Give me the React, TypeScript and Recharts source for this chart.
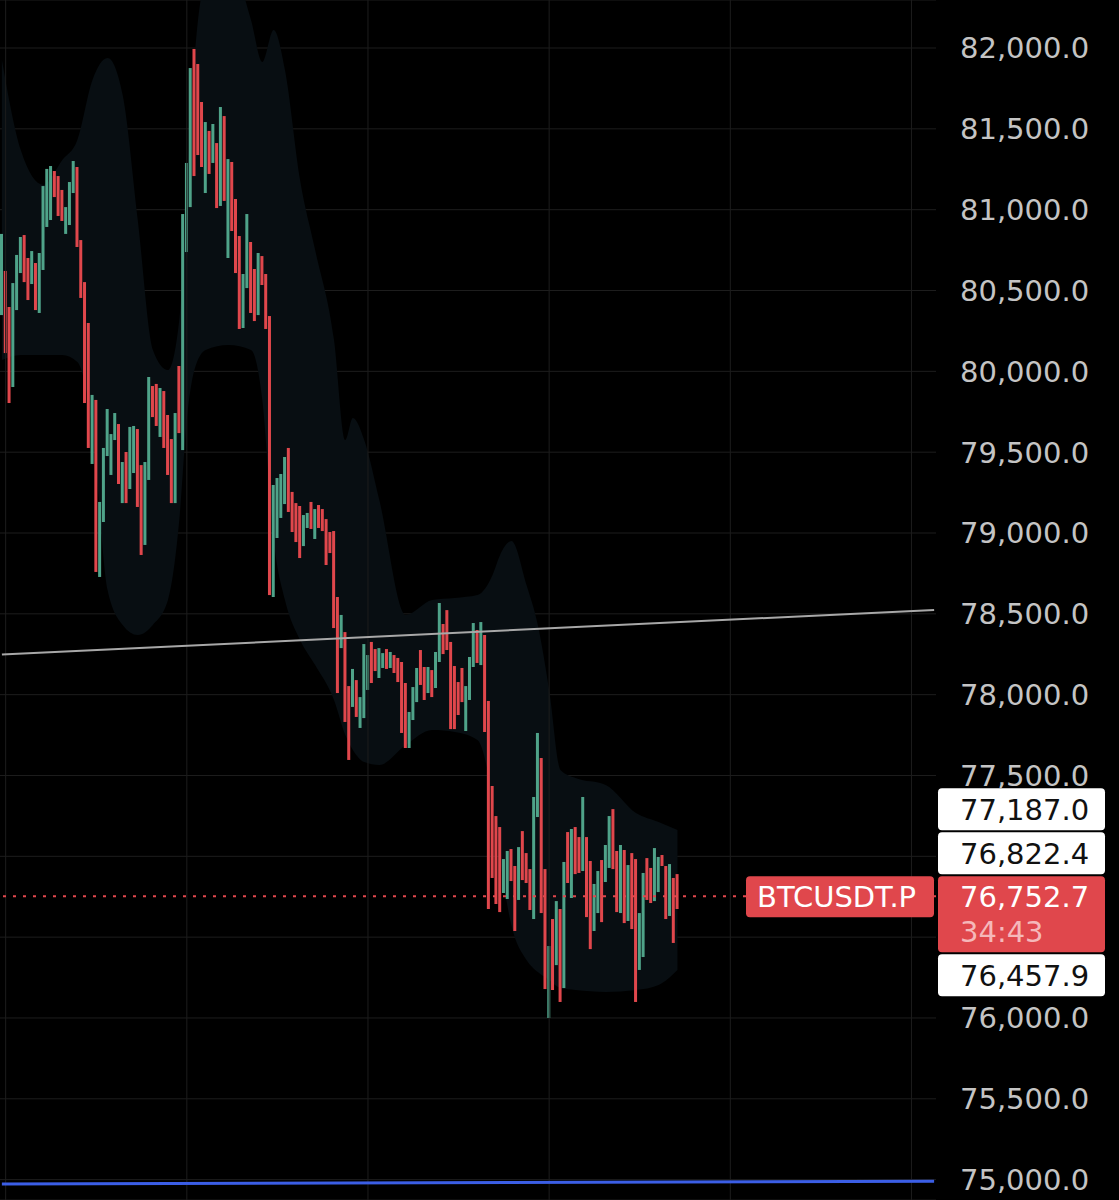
import React from "react";
import {
	ComposedChart,
	Bar,
	Area,
	XAxis,
	YAxis,
	CartesianGrid,
	ReferenceLine,
} from "recharts";

// 15m candles (high / low / green?)
const candleHigh = [
	80850, 80621, 80398, 80546, 80720, 80831, 80843, 80701, 80744, 80670,
	80732, 81146, 81252, 81270, 81239, 81208, 81122, 81016, 81171, 81301,
	81264, 80812, 80552, 80299, 79854, 79823, 79192, 79526, 79767, 79612,
	79742, 79674, 79439, 79501, 79656, 79662, 79643, 79420, 79439, 79965,
	79909, 79922, 79897, 79878, 79730, 79581, 79742, 80033, 80973, 81289,
	81876, 81994, 81901, 81666, 81542, 81487, 81530, 81412, 81635, 81579,
	81313, 81295, 81066, 80837, 80602, 80973, 80800, 80633, 80732, 80713,
	80602, 80342, 79297, 79340, 79365, 79470, 79526, 79254, 79185, 79167,
	79111, 79124, 79192, 79148, 79173, 79148, 79086, 79006, 79012, 78604,
	78493, 78387, 78053, 78159, 78090, 77985, 78313, 78245, 78326, 78282,
	78288, 78257, 78282, 78264, 78245, 78227, 78202, 78072, 77893, 78047,
	78165, 78276, 78171, 78171, 78152, 78264, 78567, 78437, 78523, 78326,
	78177, 78078, 78165, 78053, 78233, 78443, 78400, 78449, 78369, 77961,
	77435, 77249, 77181, 76983, 77033, 77045, 76940, 77057, 77156, 77020,
	76921, 77367, 77763, 77608, 76921, 76445, 76612, 76723, 76674, 76965,
	77150, 77169, 77181, 77119, 77367, 77119, 76971, 76829, 76909, 76977,
	77070, 77249, 77292, 77033, 77070, 77039, 76946, 77020, 76983, 76649,
	76897, 76989, 76928, 77051, 76996, 77008, 76940, 76952, 76866, 76890,
];
const candleLow = [
	80348, 80113, 79804, 79903, 80379, 80608, 80552, 80441, 80540, 80379,
	80361, 80627, 80893, 80936, 81078, 80961, 80930, 80850, 80905, 81103,
	80769, 80454, 79804, 79526, 79427, 78759, 78728, 79068, 79476, 79359,
	79575, 79303, 79185, 79185, 79272, 79371, 79161, 78864, 78926, 79328,
	79717, 79662, 79594, 79526, 79359, 79185, 79185, 79618, 79513, 80738,
	81016, 81208, 81338, 81264, 81103, 81221, 81289, 81010, 81023, 81054,
	80701, 80868, 80608, 80262, 80268, 80515, 80361, 80311, 80348, 80534,
	80262, 78616, 78604, 78969, 79093, 79179, 79130, 79006, 78944, 78845,
	78919, 79031, 79025, 78963, 79031, 79012, 78802, 78876, 78412, 78010,
	78288, 77831, 77596, 77924, 77862, 77794, 77855, 78029, 78072, 78146,
	78103, 78165, 78159, 78165, 78134, 78078, 77763, 77670, 77670, 77843,
	77954, 78060, 77967, 78010, 77985, 78041, 78202, 78251, 78276, 77787,
	77787, 77874, 77954, 77775, 77967, 78171, 78196, 78183, 77769, 76674,
	76866, 76705, 76655, 76773, 76736, 76847, 76538, 76730, 76853, 76835,
	76668, 76612, 77243, 76649, 76179, 76000, 76173, 76327, 76099, 76185,
	76835, 76742, 76890, 76897, 76909, 76624, 76426, 76538, 76649, 76593,
	76841, 76928, 76921, 76655, 76649, 76587, 76600, 76550, 76099, 76297,
	76377, 76730, 76711, 76723, 76779, 76940, 76612, 76631, 76464, 76674,
];
const candleUp = [
	1, 0, 0, 1, 1, 1, 0, 0, 1, 0, 1, 1, 1, 1, 0, 0, 0, 1, 1, 1,
	0, 0, 0, 0, 1, 0, 1, 1, 1, 1, 1, 0, 1, 0, 1, 1, 0, 0, 1, 1,
	0, 0, 1, 0, 0, 0, 1, 0, 1, 1, 1, 0, 0, 0, 1, 0, 1, 0, 1, 0,
	1, 0, 0, 0, 1, 1, 0, 0, 1, 0, 0, 0, 1, 1, 1, 1, 0, 0, 0, 0,
	1, 1, 0, 1, 0, 0, 0, 0, 0, 0, 1, 0, 0, 1, 0, 1, 1, 1, 0, 0,
	1, 1, 0, 1, 0, 0, 0, 0, 1, 1, 1, 0, 0, 1, 0, 1, 1, 0, 0, 0,
	0, 0, 0, 1, 1, 1, 0, 1, 0, 0, 0, 0, 0, 1, 1, 0, 0, 1, 0, 0,
	0, 1, 1, 0, 0, 1, 0, 1, 0, 1, 0, 1, 0, 0, 1, 0, 0, 1, 1, 0,
	1, 1, 0, 0, 1, 0, 1, 0, 0, 1, 1, 0, 0, 1, 1, 0, 0, 1, 0, 0,
];

// dark envelope behind the candles (slot, top, bottom)
const bandSlot = [0, 5, 11, 16, 20, 24, 28, 32, 36, 40, 44, 47, 49, 51, 54, 60, 66, 69, 72, 75, 79, 83, 88, 91, 93, 96, 100, 107, 114, 120, 126, 130, 132, 135, 139, 142, 145, 148, 152, 160, 168, 174, 179];
const bandTop = [81926, 81369, 81153, 81307, 81431, 81802, 81938, 81709, 80936, 80132, 80008, 80318, 81122, 81926, 82421, 82544, 82173, 81913, 82111, 81864, 81184, 80751, 80194, 79575, 79711, 79575, 79204, 78493, 78585, 78598, 78616, 78740, 78864, 78950, 78678, 78431, 78029, 77534, 77484, 77441, 77268, 77212, 77163];
const bandBottom = [80070, 80101, 80101, 80101, 80058, 79637, 78647, 78431, 78369, 78431, 78585, 79080, 79699, 80008, 80132, 80163, 80132, 79823, 78957, 78585, 78338, 78183, 77967, 77750, 77658, 77583, 77565, 77688, 77781, 77769, 77719, 77348, 76977, 76575, 76359, 76284, 76235, 76185, 76173, 76161, 76173, 76204, 76297];

const priceTicks = [75000, 75500, 76000, 76500, 77000, 77500, 78000, 78500, 79000, 79500, 80000, 80500, 81000, 81500, 82000];
const coveredTicks = [76500, 77000];
const timeGrid = [1, 49, 97, 145, 193, 241];
const trendLine = [78248, 78524];
const supportLine = [74973, 74990];
const lastPrice = 76752.7;
const countdown = "34:43";
const marksAbove = [77187.0, 76822.4];
const marksBelow = [76457.9];
const symbol = "BTCUSDT.P";

const SLOTS = 248;
const UP = "#4fa389";
const DOWN = "#e0474c";
const GRID = "#1d1d1d";
const FONT = "DejaVu Sans";

const rows = Array.from({ length: SLOTS }, (_, i) => {
	const b = bandSlot.indexOf(i);
	return {
		i,
		range: i < candleHigh.length ? [candleLow[i], candleHigh[i]] : null,
		up: candleUp[i] === 1,
		band: b >= 0 ? [bandBottom[b], bandTop[b]] : null,
	};
});

const fmt = (v: number) =>
	v.toLocaleString("en-US", { minimumFractionDigits: 1, maximumFractionDigits: 1 });

function PriceTick(props: any) {
	const { x, y, payload } = props;
	if (coveredTicks.includes(payload.value)) return null;
	return (
		<text x={x + 16} y={y} dy="0.36em" fill="#c4c4c4" fontSize={29} fontFamily={FONT}>
			{fmt(payload.value)}
		</text>
	);
}

function CandleShape(props: any) {
	const { x, y, width, height, payload } = props;
	if (!payload.range) return null;
	return <rect x={x} y={y} width={width} height={Math.max(height, 1)} fill={payload.up ? UP : DOWN} />;
}

function PriceLabels(props: any) {
	const { x, y, width } = props.viewBox;
	const right = x + width;
	const bx = right + 2;
	const bw = 167;
	const tx = right + 24;
	return (
		<g fontFamily={FONT} fontSize={29}>
			<rect x={right - 190} y={y - 20} width={188} height={41} rx={4} fill={DOWN} />
			<text x={right - 179} y={y} dy="0.36em" fill="#fff">{symbol}</text>
			{marksAbove.map((m, k) => {
				const top = y - 20 - (marksAbove.length - k) * 44;
				return (
					<g key={m}>
						<rect x={bx} y={top} width={bw} height={42} rx={4} fill="#fff" />
						<text x={tx} y={top + 21} dy="0.36em" fill="#111">{fmt(m)}</text>
					</g>
				);
			})}
			<rect x={bx} y={y - 20} width={bw} height={76} rx={4} fill={DOWN} />
			<text x={tx} y={y} dy="0.36em" fill="#fff">{fmt(lastPrice)}</text>
			<text x={tx} y={y + 35} dy="0.36em" fill="#f5b8ba">{countdown}</text>
			{marksBelow.map((m, k) => {
				const top = y + 58 + k * 44;
				return (
					<g key={m}>
						<rect x={bx} y={top} width={bw} height={42} rx={4} fill="#fff" />
						<text x={tx} y={top + 21} dy="0.36em" fill="#111">{fmt(m)}</text>
					</g>
				);
			})}
		</g>
	);
}

export default function App() {
	return (
		<div style={{ position: "absolute", left: 0, top: 0, width: 1119, height: 1200, background: "#000" }}>
			<ComposedChart width={1119} height={1200} data={rows} margin={{ top: 0, right: 0, bottom: 0, left: 0 }}>
				<CartesianGrid vertical={false} stroke={GRID} />
				<XAxis dataKey="i" type="category" hide />
				<YAxis
					orientation="right"
					width={183}
					domain={[74874, 82297]}
					allowDataOverflow
					ticks={priceTicks}
					interval={0}
					tickLine={false}
					axisLine={false}
					tick={<PriceTick />}
				/>
				{timeGrid.map((t) => (
					<ReferenceLine key={t} x={t} stroke={GRID} />
				))}
				<Area
					dataKey="band"
					type="monotone"
					connectNulls
					fill="#080e12"
					fillOpacity={1}
					stroke="none"
					dot={false}
					activeDot={false}
					isAnimationActive={false}
				/>
				<ReferenceLine
					segment={[{ x: 0, y: trendLine[0] }, { x: SLOTS - 1, y: trendLine[1] }]}
					stroke="#a8a8a8"
					strokeWidth={2}
				/>
				<Bar dataKey="range" barSize={3} shape={<CandleShape />} isAnimationActive={false} />
				<ReferenceLine
					segment={[{ x: 0, y: supportLine[0] }, { x: SLOTS - 1, y: supportLine[1] }]}
					stroke="#3b5ee6"
					strokeWidth={3}
				/>
				<ReferenceLine
					y={lastPrice}
					stroke={DOWN}
					strokeWidth={2}
					strokeDasharray="3 7"
					label={(p: any) => <PriceLabels {...p} />}
				/>
			</ComposedChart>
		</div>
	);
}
